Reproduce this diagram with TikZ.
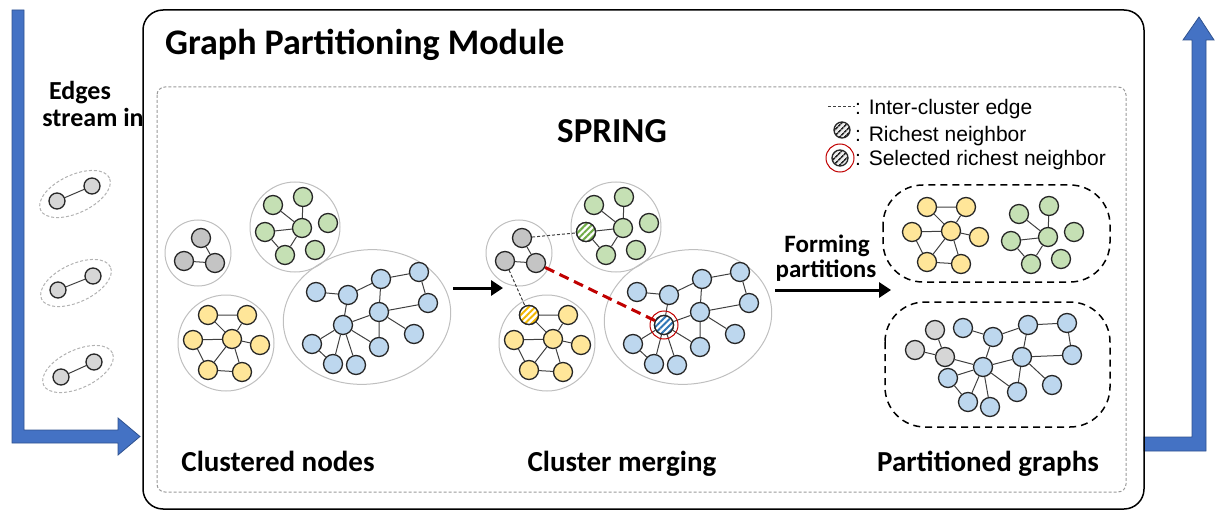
\documentclass[tikz,border=0pt]{standalone}
\usepackage{fontspec}
\setmainfont{Carlito}
\newfontfamily\legfont{Liberation Sans}
\usetikzlibrary{patterns.meta,arrows.meta}
\definecolor{cgray}{HTML}{C4C4C4}
\definecolor{cgreen}{HTML}{C5E0B4}
\definecolor{cyellow}{HTML}{FFE699}
\definecolor{cblue}{HTML}{BDD7EE}
\definecolor{ndline}{HTML}{262626}
\definecolor{edcol}{HTML}{404040}
\definecolor{clucol}{HTML}{BFBFBF}
\definecolor{arrblue}{HTML}{4472C4}
\definecolor{arrline}{HTML}{2F528F}
\definecolor{redc}{HTML}{C00000}
\definecolor{hgreen}{HTML}{70AD47}
\definecolor{hyellow}{HTML}{F2B800}
\definecolor{hblue}{HTML}{2E75B6}
\tikzset{
  nd/.style={circle,draw=ndline,line width=1.3pt,minimum size=19pt,inner sep=0pt},
  snd/.style={nd,minimum size=16pt,fill=cgray!70},
  ed/.style={draw=edcol,line width=1pt},
  clu/.style={draw=clucol,line width=1pt},
  hatchc/.style={circle,draw=ndline,line width=1.3pt,minimum size=19pt,inner sep=0pt,
    preaction={fill=white},
    pattern={Lines[angle=45,distance=4.5pt,line width=2pt]},pattern color=#1},
  hatchk/.style={circle,draw=ndline,line width=1.3pt,minimum size=16pt,inner sep=0pt,
    preaction={fill=gray!15},
    pattern={Lines[angle=45,distance=4pt,line width=1.7pt]},pattern color=black!85},
  bigarrow/.style={fill=arrblue,draw=arrline,line width=0.8pt},
  blkarrow/.style={draw=black,line width=3pt,-{Triangle[length=12pt,width=15pt]}},
  partbox/.style={draw=black,line width=1.5pt,dash pattern=on 7pt off 5pt,rounded corners=40pt},
  interedge/.style={draw=edcol,line width=1pt,dash pattern=on 3pt off 2pt},
  streamell/.style={draw=gray!60,line width=1pt,dash pattern=on 3pt off 2pt},
  txtb/.style={inner sep=0pt,font=\bfseries},
  legtxt/.style={inner sep=0pt,anchor=base west,font=\legfont\fontsize{21}{24}\selectfont}
}
\newcommand\GrayClu[1]{%
  \node[nd,fill=cgray] (#1a) at (201,238) {};
  \node[nd,fill=cgray] (#1b) at (184,261) {};
  \node[nd,fill=cgray] (#1c) at (215,263) {};
  \draw[ed] (#1a)--(#1c) (#1b)--(#1c);}
\newcommand\GreenClu[1]{%
  \node[nd,fill=cgreen] (#1g1) at (273,205) {};
  \node[nd,fill=cgreen] (#1g2) at (303,197) {};
  \node[nd,fill=cgreen] (#1g3) at (265,232) {};
  \node[nd,fill=cgreen] (#1g4) at (302,228) {};
  \node[nd,fill=cgreen] (#1g5) at (328,223) {};
  \node[nd,fill=cgreen] (#1g6) at (285,255) {};
  \node[nd,fill=cgreen] (#1g7) at (315,250) {};
  \draw[ed] (#1g1)--(#1g4) (#1g2)--(#1g4) (#1g3)--(#1g4) (#1g3)--(#1g6) (#1g4)--(#1g6);}
\newcommand\YellowClu[1]{%
  \node[nd,fill=cyellow] (#1y1) at (208,315) {};
  \node[nd,fill=cyellow] (#1y2) at (247,315) {};
  \node[nd,fill=cyellow] (#1y3) at (193,340) {};
  \node[nd,fill=cyellow] (#1y4) at (232,339) {};
  \node[nd,fill=cyellow] (#1y5) at (260,345) {};
  \node[nd,fill=cyellow] (#1y6) at (208,370) {};
  \node[nd,fill=cyellow] (#1y7) at (242,372) {};
  \draw[ed] (#1y1)--(#1y2) (#1y1)--(#1y4) (#1y2)--(#1y4) (#1y3)--(#1y4) (#1y3)--(#1y6)
    (#1y4)--(#1y6) (#1y4)--(#1y7) (#1y6)--(#1y7) (#1y4)--(#1y5);}
\newcommand\BlueClu[1]{%
  \node[nd,fill=cblue] (#1b1) at (316,292) {};
  \node[nd,fill=cblue] (#1b2) at (348,295) {};
  \node[nd,fill=cblue] (#1b3) at (381,279) {};
  \node[nd,fill=cblue] (#1b4) at (419,272) {};
  \node[nd,fill=cblue] (#1b5) at (428,303) {};
  \node[nd,fill=cblue] (#1b6) at (379,312) {};
  \node[nd,fill=cblue] (#1b7) at (343,325) {};
  \node[nd,fill=cblue] (#1b8) at (312,344) {};
  \node[nd,fill=cblue] (#1b9) at (333,364) {};
  \node[nd,fill=cblue] (#1b10) at (356,365) {};
  \node[nd,fill=cblue] (#1b11) at (379,347) {};
  \node[nd,fill=cblue] (#1b12) at (414,334) {};
  \draw[ed] (#1b1)--(#1b2) (#1b2)--(#1b3) (#1b3)--(#1b4) (#1b4)--(#1b5) (#1b3)--(#1b6)
    (#1b6)--(#1b5) (#1b2)--(#1b7) (#1b6)--(#1b7) (#1b6)--(#1b11) (#1b6)--(#1b12)
    (#1b7)--(#1b8) (#1b7)--(#1b9) (#1b7)--(#1b10) (#1b7)--(#1b11) (#1b8)--(#1b9);}
\begin{document}
\begin{tikzpicture}[x=1pt,y=-1pt]
\useasboundingbox (0,0) rectangle (1224,524);
% blue stream arrows
\path[bigarrow] (12,10) -- (24,10) -- (24,430) -- (118,430) -- (118,418) -- (140,436.5)
  -- (118,455) -- (118,443) -- (12,443) -- cycle;
\path[bigarrow] (1144,437) -- (1192,437) -- (1192,40) -- (1183,40) -- (1199,17) -- (1214,40)
  -- (1206,40) -- (1206,451) -- (1144,451) -- cycle;
% module boxes
\draw[line width=1.5pt,rounded corners=20pt] (143,10) rectangle (1144,509);
\draw[draw=gray!80,line width=1pt,dash pattern=on 3pt off 2pt,rounded corners=8pt] (157,87) rectangle (1126,492);
% titles
\node[txtb,anchor=base west,font=\bfseries\fontsize{36}{40}\selectfont] (title) at (165,55) {Graph Partitioning Module};
\node[txtb,anchor=base,font=\bfseries\fontsize{35}{40}\selectfont] (spring) at (612,143) {SPRING};
\node[txtb,anchor=base,font=\bfseries\fontsize{26}{28}\selectfont] (edg1) at (80,100) {Edges};
\node[txtb,anchor=base,font=\bfseries\fontsize{26}{28}\selectfont] (edg2) at (93,127) {stream in};
\node[txtb,anchor=base,font=\bfseries\fontsize{29}{32}\selectfont] (lab1) at (278,471) {Clustered nodes};
\node[txtb,anchor=base,font=\bfseries\fontsize{29}{32}\selectfont] (lab2) at (622,471) {Cluster merging};
\node[txtb,anchor=base,font=\bfseries\fontsize{29}{32}\selectfont] (lab3) at (988,471) {Partitioned graphs};
\node[txtb,anchor=base,font=\bfseries\fontsize{25}{26}\selectfont] (fp1) at (827,252) {Forming};
\node[txtb,anchor=base,font=\bfseries\fontsize{25}{26}\selectfont] (fp2) at (826,277) {partitions};
% legend
\coordinate (lgA) at (828,107);
\coordinate (lgB) at (855,107);
\draw[interedge] (lgA) -- (lgB);
\node[legtxt] (lt1) at (855,115) {: Inter-cluster edge};
\node[hatchk] (lh1) at (842,130) {};
\node[legtxt] (lt2) at (855,142) {: Richest neighbor};
\node[hatchk] (lh2) at (840,158) {};
\draw[draw=redc,line width=1pt] (lh2) circle (14pt);
\node[legtxt] (lt3) at (855,166) {: Selected richest neighbor};
% stream edges
\draw[streamell] (75,194) ellipse [x radius=38pt,y radius=19pt,rotate=25];
\draw[streamell] (76,283) ellipse [x radius=38pt,y radius=19pt,rotate=25];
\draw[streamell] (78,369) ellipse [x radius=38pt,y radius=19pt,rotate=25];
\node[snd] (s1a) at (57,201) {}; \node[snd] (s1b) at (92,186) {};
\node[snd] (s2a) at (58,290) {}; \node[snd] (s2b) at (93,276) {};
\node[snd] (s3a) at (61,377) {}; \node[snd] (s3b) at (94,362) {};
\draw[ed] (s1a)--(s1b) (s2a)--(s2b) (s3a)--(s3b);
% clustered nodes
\draw[clu] (198,253) circle (33pt);
\draw[clu] (295,227) circle (45pt);
\draw[clu] (226,343) circle (48pt);
\draw[clu] (367,317) ellipse [x radius=84pt,y radius=67pt,rotate=8];
\GrayClu{c}
\GreenClu{c}
\YellowClu{c}
\BlueClu{c}
% arrow 1
\coordinate (a1s) at (453,288);
\coordinate (a1e) at (503,288);
\draw[blkarrow] (a1s) -- (a1e);
% cluster merging
\begin{scope}[shift={(321,0)}]
\draw[clu] (198,253) circle (33pt);
\draw[clu] (295,227) circle (45pt);
\draw[clu] (226,343) circle (48pt);
\draw[clu] (367,317) ellipse [x radius=84pt,y radius=67pt,rotate=8];
\GrayClu{m}
\GreenClu{m}
\YellowClu{m}
\BlueClu{m}
\end{scope}
\node[hatchc=hgreen] (mg3h) at (mg3) {};
\node[hatchc=hyellow] (my1h) at (my1) {};
\node[hatchc=hblue] (mb7h) at (mb7) {};
\draw[draw=redc,line width=1pt] (mb7) circle (14pt);
\draw[interedge] (ma) -- (mg3);
\draw[interedge] (mb) -- (my1);
\draw[draw=redc,line width=3pt,dash pattern=on 10pt off 6pt] (mc) -- (mb7h);
% arrow 2
\coordinate (a2s) at (775,290);
\coordinate (a2e) at (891,290);
\draw[blkarrow] (a2s) -- (a2e);
% partitioned graphs
\draw[partbox] (883,185) rectangle (1110,282);
\draw[partbox] (885,302) rectangle (1110,427);
\begin{scope}[shift={(719,-108)}]
\YellowClu{p}
\end{scope}
\begin{scope}[shift={(746,9)}]
\GreenClu{p}
\end{scope}
\node[nd,fill=cgray!70] (qa) at (935,330) {};
\node[nd,fill=cgray!70] (qb) at (915,350) {};
\node[nd,fill=cgray!70] (qc) at (945,357) {};
\node[nd,fill=cblue] (q1) at (963,328) {};
\node[nd,fill=cblue] (q2) at (993,337) {};
\node[nd,fill=cblue] (q3) at (1028,325) {};
\node[nd,fill=cblue] (q4) at (1067,323) {};
\node[nd,fill=cblue] (q5) at (1072,355) {};
\node[nd,fill=cblue] (q6) at (1022,357) {};
\node[nd,fill=cblue] (q7) at (983,367) {};
\node[nd,fill=cblue] (q8) at (948,378) {};
\node[nd,fill=cblue] (q9) at (968,402) {};
\node[nd,fill=cblue] (q10) at (990,407) {};
\node[nd,fill=cblue] (q11) at (1017,392) {};
\node[nd,fill=cblue] (q12) at (1052,385) {};
\draw[ed] (qa)--(qc) (qb)--(qc) (qc)--(q7)
  (q1)--(q2) (q2)--(q3) (q3)--(q4) (q4)--(q5) (q3)--(q6) (q6)--(q5) (q2)--(q7) (q7)--(q6)
  (q6)--(q11) (q6)--(q12) (q7)--(q8) (q7)--(q9) (q7)--(q10) (q7)--(q11) (q8)--(q9);
\end{tikzpicture}
\end{document}
